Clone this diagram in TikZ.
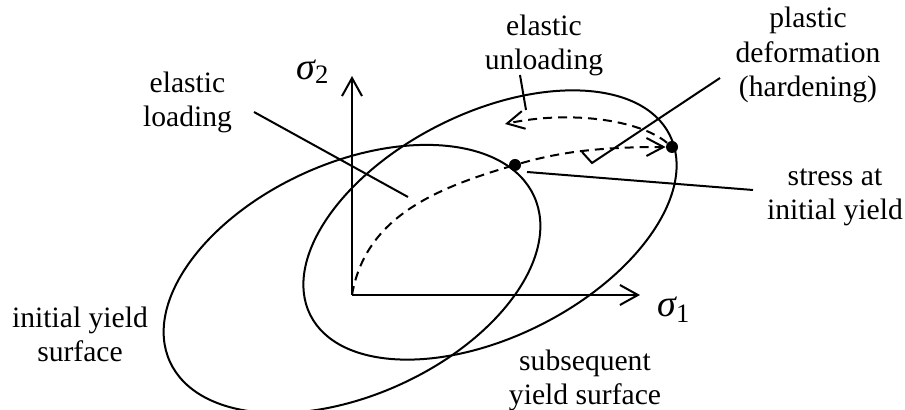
\documentclass[tikz,border=0pt]{standalone}
\usepackage{fontspec}
\setmainfont{Liberation Serif}
\usetikzlibrary{arrows.meta}
\begin{document}
\begin{tikzpicture}[x=0.5pt,y=-0.5pt,
  curve/.style={line width=1pt},
  axis/.style={line width=1pt, -{Straight Barb[length=9pt,width=10pt,line width=1pt]}},
  dashedpath/.style={line width=1pt, dash pattern=on 4.5pt off 3pt},
  dasharrow/.style={dashedpath, -{Straight Barb[length=8.5pt,width=9pt,line width=1pt]}},
  leader/.style={line width=1pt},
  dot/.style={circle, fill=black, inner sep=0pt, minimum size=6pt},
  lbl/.style={font=\fontsize{14.8}{17.4}\selectfont, align=center, inner sep=0pt, anchor=base},
  sym/.style={inner sep=0pt, anchor=base west}]
\useasboundingbox (0,0) rectangle (905,410);
\begin{scope}
\clip (0,0) rectangle (905,410);
% initial yield surface (centred near the origin)
\draw[curve, rotate around={24.4:(352,279)}] (352,279) ellipse [x radius=200, y radius=116];
% subsequent yield surface (translated)
\draw[curve, rotate around={26.6:(490,225)}] (490,225) ellipse [x radius=201, y radius=112];
\end{scope}
% axes
\coordinate (O) at (352,295);
\coordinate (S2end) at (352,76);
\coordinate (S1end) at (640,295);
\draw[axis] (O) -- (S2end);
\draw[axis] (O) -- (S1end);
\node[sym] (s2) at (296,80) {\fontsize{19}{20}\selectfont\itshape σ\raisebox{-2pt}{\fontsize{13.3}{14}\selectfont\upshape 2}};
\node[sym] (s1) at (657,317) {\fontsize{19}{20}\selectfont\itshape σ\raisebox{-3pt}{\fontsize{13.3}{14}\selectfont\upshape 1}};
% stress points and paths
\node[dot] (Y) at (515,165) {};
\node[dot] (P) at (672,147) {};
\coordinate (U) at (505,124);
\draw[dashedpath] (O) .. controls (365,220) and (430,190) .. (Y);
\draw[dasharrow] (Y) .. controls (560,152) and (600,147) .. (P);
\draw[dasharrow] (P) .. controls (640,120) and (570,110) .. (U);
% labels (base = baseline of last line)
\node[lbl] (elload) at (187.5,127) {elastic\\loading};
\node[lbl] (elunload) at (544,70) {elastic\\unloading};
\node[lbl] (plast) at (808,97) {plastic\\deformation\\(hardening)};
\node[lbl] (stress) at (835,220) {stress at\\initial yield};
\node[lbl] (iys) at (80,362) {initial yield\\surface};
\node[lbl] (sys) at (585,405) {subsequent\\yield surface};
% leaders
\coordinate (la) at (254,112); \coordinate (lb) at (408,197);
\draw[leader] (la) -- (lb);
\coordinate (ua) at (520,75); \coordinate (ub) at (526,110);
\draw[leader] (ua) -- (ub);
\coordinate (pa) at (720,78); \coordinate (pb) at (592,163); \coordinate (pc) at (582,152);
\draw[leader] (pa) -- (pb) -- (pc);
\coordinate (sa) at (753,190); \coordinate (sb) at (527,172);
\draw[leader] (sa) -- (sb);
\end{tikzpicture}
\end{document}
